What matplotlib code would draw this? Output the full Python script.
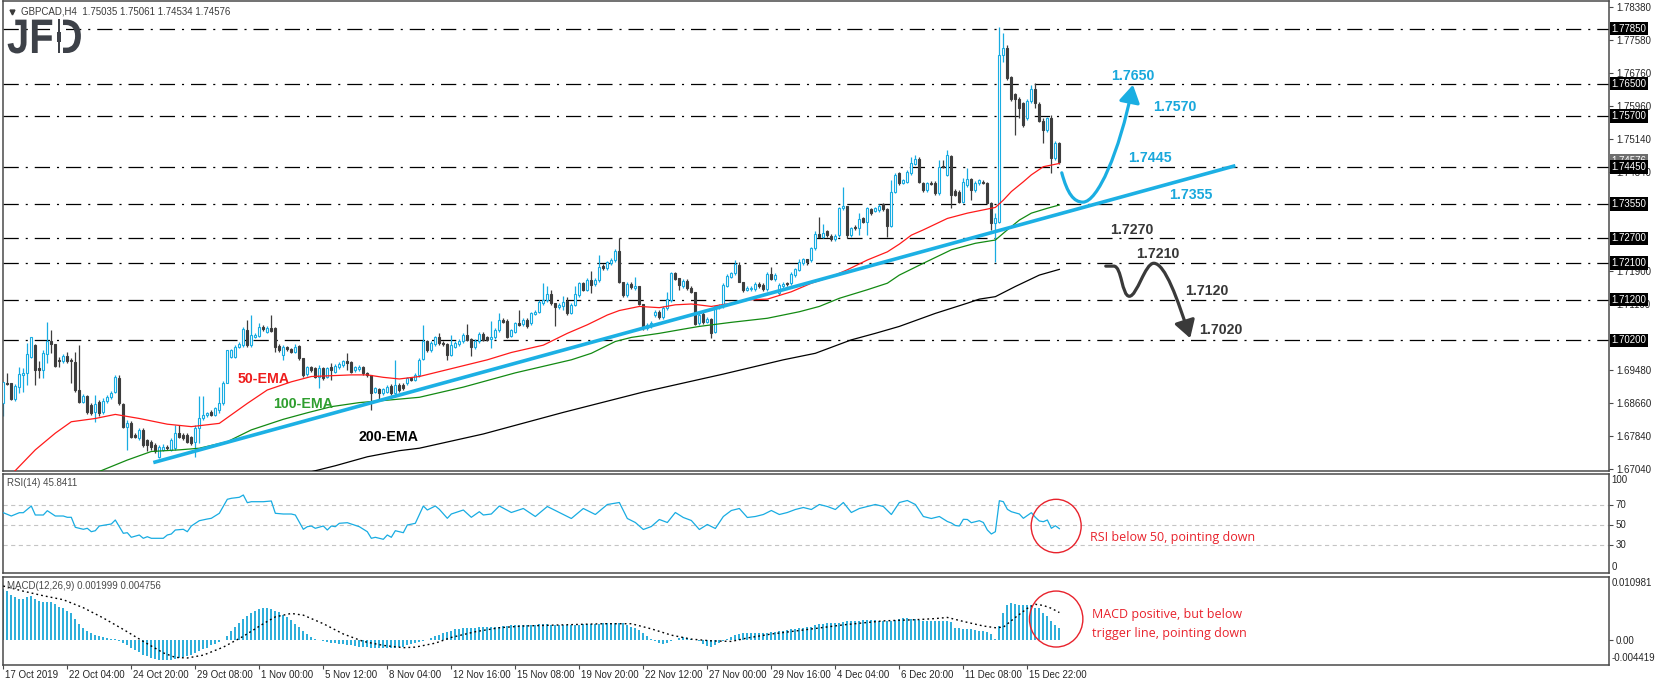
import matplotlib
matplotlib.use("Agg")
import matplotlib.pyplot as plt
import numpy as np
from matplotlib.patches import Ellipse, FancyArrowPatch, PathPatch, Rectangle
from matplotlib.path import Path
from matplotlib.textpath import TextPath
from matplotlib.font_manager import FontProperties
from matplotlib.transforms import Affine2D

plt.rcParams['font.family'] = ['Liberation Sans', 'DejaVu Sans']
plt.rcParams['lines.scale_dashes'] = False

# ---------------- data (GBPCAD H4) ----------------
opens = [
    1.6865, 1.6916, 1.6914, 1.6877, 1.6906, 1.6935, 1.6939, 1.6980, 1.7008, 1.6951,
    1.6947, 1.6986, 1.7017, 1.7011, 1.6972, 1.6970, 1.6982, 1.6972, 1.6967, 1.6898,
    1.6869, 1.6882, 1.6861, 1.6845, 1.6869, 1.6843, 1.6872, 1.6880, 1.6894, 1.6927,
    1.6864, 1.6808, 1.6818, 1.6787, 1.6779, 1.6800, 1.6775, 1.6771, 1.6763, 1.6734,
    1.6751, 1.6759, 1.6751, 1.6755, 1.6792, 1.6788, 1.6788, 1.6783, 1.6771, 1.6804,
    1.6829, 1.6837, 1.6845, 1.6837, 1.6849, 1.6865, 1.6916, 1.6980, 1.6980, 1.7004,
    1.7008, 1.7045, 1.7008, 1.7029, 1.7031, 1.7053, 1.7041, 1.7049, 1.7049, 1.7006,
    1.6984, 1.7003, 1.6998, 1.6992, 1.7006, 1.6976, 1.6937, 1.6954, 1.6951, 1.6931,
    1.6951, 1.6931, 1.6954, 1.6943, 1.6954, 1.6959, 1.6968, 1.6966, 1.6947, 1.6949,
    1.6954, 1.6939, 1.6935, 1.6894, 1.6900, 1.6890, 1.6894, 1.6908, 1.6890, 1.6910,
    1.6910, 1.6914, 1.6927, 1.6923, 1.6935,
    1.6974, 1.7017, 1.6996, 1.7010, 1.7027, 1.7014, 1.7011, 1.6984, 1.7004, 1.7010,
    1.7017, 1.7033, 1.7022, 1.7003, 1.7017, 1.7036, 1.7027, 1.7023, 1.7027, 1.7044,
    1.7070, 1.7068, 1.7031, 1.7041, 1.7062, 1.7060, 1.7070, 1.7062, 1.7085, 1.7090,
    1.7111, 1.7119, 1.7134, 1.7111, 1.7101, 1.7103, 1.7117, 1.7088, 1.7107, 1.7131,
    1.7160, 1.7144, 1.7168, 1.7158, 1.7168, 1.7202, 1.7197, 1.7209, 1.7217, 1.7240,
    1.7162, 1.7131, 1.7158, 1.7148, 1.7153, 1.7109, 1.7049, 1.7055, 1.7082, 1.7090,
    1.7076, 1.7099, 1.7119, 1.7184, 1.7172, 1.7153, 1.7166, 1.7148, 1.7139, 1.7062,
    1.7085, 1.7066, 1.7072, 1.7041, 1.7101, 1.7103, 1.7154, 1.7176, 1.7184, 1.7205,
    1.7164, 1.7144, 1.7145, 1.7145, 1.7158, 1.7156, 1.7145, 1.7183, 1.7170, 1.7135,
    1.7152, 1.7160, 1.7160, 1.7180, 1.7193, 1.7209, 1.7219, 1.7217, 1.7246, 1.7281,
    1.7274, 1.7287, 1.7276, 1.7268, 1.7278, 1.7344, 1.7350, 1.7278, 1.7299, 1.7295,
    1.7319, 1.7311, 1.7341, 1.7338, 1.7340, 1.7354, 1.7341, 1.7301, 1.7385, 1.7430,
    1.7407, 1.7409, 1.7430, 1.7453, 1.7464, 1.7405, 1.7389, 1.7407, 1.7407, 1.7381,
    1.7448, 1.7426, 1.7472, 1.7387, 1.7385, 1.7360, 1.7401, 1.7415, 1.7389, 1.7405,
    1.7409, 1.7407, 1.7358, 1.7309, 1.7311, 1.7720, 1.7737, 1.7665, 1.7625, 1.7611,
    1.7602, 1.7565, 1.7608, 1.7636, 1.7600, 1.7559, 1.7535, 1.7565, 1.7467, 1.75035,
]
highs = [
    1.6918, 1.6939, 1.6914, 1.6912, 1.6955, 1.6951, 1.7013, 1.7029, 1.7010, 1.6968,
    1.6996, 1.7064, 1.7045, 1.7011, 1.6980, 1.6986, 1.6992, 1.6976, 1.6992, 1.7008,
    1.6887, 1.6886, 1.6865, 1.6886, 1.6873, 1.6878, 1.6886, 1.6896, 1.6935, 1.6935,
    1.6865, 1.6824, 1.6822, 1.6792, 1.6804, 1.6804, 1.6777, 1.6775, 1.6767, 1.6763,
    1.6765, 1.6763, 1.6779, 1.6812, 1.6812, 1.6792, 1.6792, 1.6786, 1.6812, 1.6882,
    1.6882, 1.6845, 1.6849, 1.6857, 1.6906, 1.6920, 1.6996, 1.6999, 1.7008, 1.7015,
    1.7053, 1.7070, 1.7082, 1.7037, 1.7062, 1.7058, 1.7055, 1.7082, 1.7053, 1.7010,
    1.7008, 1.7006, 1.7002, 1.7011, 1.7008, 1.6976, 1.6958, 1.6958, 1.6955, 1.6959,
    1.6955, 1.6955, 1.6963, 1.6961, 1.6966, 1.6972, 1.6988, 1.6970, 1.6958, 1.6960,
    1.6958, 1.6943, 1.6935, 1.6906, 1.6902, 1.6904, 1.6910, 1.6912, 1.6972, 1.6914,
    1.6914, 1.6931, 1.6931, 1.6939, 1.6976,
    1.7058, 1.7021, 1.7018, 1.7031, 1.7037, 1.7018, 1.7014, 1.7033, 1.7017, 1.7022,
    1.7037, 1.7060, 1.7025, 1.7022, 1.7040, 1.7040, 1.7031, 1.7067, 1.7049, 1.7086,
    1.7074, 1.7072, 1.7048, 1.7066, 1.7094, 1.7074, 1.7074, 1.7090, 1.7094, 1.7119,
    1.7160, 1.7152, 1.7144, 1.7111, 1.7111, 1.7129, 1.7127, 1.7111, 1.7153, 1.7164,
    1.7164, 1.7172, 1.7189, 1.7172, 1.7229, 1.7206, 1.7215, 1.7221, 1.7243, 1.7270,
    1.7162, 1.7162, 1.7162, 1.7176, 1.7153, 1.7109, 1.7062, 1.7067, 1.7094, 1.7094,
    1.7103, 1.7139, 1.7188, 1.7188, 1.7172, 1.7170, 1.7170, 1.7152, 1.7139, 1.7086,
    1.7089, 1.7076, 1.7074, 1.7105, 1.7109, 1.7160, 1.7182, 1.7188, 1.7217, 1.7213,
    1.7164, 1.7152, 1.7153, 1.7162, 1.7162, 1.7160, 1.7187, 1.7199, 1.7184, 1.7160,
    1.7162, 1.7164, 1.7187, 1.7198, 1.7219, 1.7223, 1.7219, 1.7250, 1.7287, 1.7322,
    1.7305, 1.7291, 1.7280, 1.7280, 1.7348, 1.7397, 1.7350, 1.7299, 1.7303, 1.7332,
    1.7323, 1.7348, 1.7345, 1.7348, 1.7354, 1.7358, 1.7344, 1.7413, 1.7430, 1.7434,
    1.7417, 1.7438, 1.7471, 1.7475, 1.7471, 1.7409, 1.7409, 1.7411, 1.7411, 1.7463,
    1.7463, 1.7487, 1.7475, 1.7391, 1.7389, 1.7418, 1.7442, 1.7418, 1.7411, 1.7417,
    1.7413, 1.7409, 1.7360, 1.7332, 1.7790, 1.7773, 1.7745, 1.7669, 1.7626, 1.7618,
    1.7606, 1.7612, 1.7647, 1.7651, 1.7604, 1.7565, 1.7567, 1.7573, 1.7508, 1.75061,
]
lows = [
    1.6833, 1.6910, 1.6873, 1.6872, 1.6890, 1.6894, 1.6910, 1.6976, 1.6910, 1.6927,
    1.6927, 1.6963, 1.6988, 1.6955, 1.6955, 1.6965, 1.6963, 1.6914, 1.6894, 1.6865,
    1.6865, 1.6839, 1.6837, 1.6820, 1.6833, 1.6838, 1.6866, 1.6875, 1.6890, 1.6861,
    1.6804, 1.6751, 1.6779, 1.6779, 1.6775, 1.6759, 1.6747, 1.6751, 1.6743, 1.6730,
    1.6747, 1.6751, 1.6747, 1.6751, 1.6779, 1.6775, 1.6767, 1.6763, 1.6734, 1.6767,
    1.6824, 1.6832, 1.6833, 1.6833, 1.6841, 1.6861, 1.6914, 1.6976, 1.6976, 1.7000,
    1.7004, 1.7004, 1.7004, 1.7025, 1.7029, 1.7043, 1.7037, 1.7041, 1.6992, 1.6992,
    1.6972, 1.6994, 1.6988, 1.6988, 1.6972, 1.6931, 1.6933, 1.6943, 1.6927, 1.6902,
    1.6923, 1.6927, 1.6923, 1.6939, 1.6950, 1.6955, 1.6947, 1.6939, 1.6943, 1.6945,
    1.6935, 1.6931, 1.6849, 1.6890, 1.6873, 1.6886, 1.6890, 1.6886, 1.6886, 1.6894,
    1.6898, 1.6910, 1.6919, 1.6919, 1.6931,
    1.6972, 1.6992, 1.6992, 1.7006, 1.7009, 1.7007, 1.6972, 1.6982, 1.7000, 1.7006,
    1.7013, 1.7017, 1.6982, 1.6999, 1.7013, 1.7017, 1.7017, 1.7000, 1.7023, 1.7041,
    1.7062, 1.7025, 1.7027, 1.7037, 1.7054, 1.7056, 1.7051, 1.7058, 1.7081, 1.7086,
    1.7107, 1.7115, 1.7107, 1.7056, 1.7097, 1.7094, 1.7083, 1.7084, 1.7103, 1.7127,
    1.7140, 1.7140, 1.7135, 1.7154, 1.7164, 1.7193, 1.7193, 1.7205, 1.7213, 1.7160,
    1.7127, 1.7127, 1.7146, 1.7144, 1.7107, 1.7045, 1.7045, 1.7051, 1.7078, 1.7072,
    1.7072, 1.7095, 1.7115, 1.7167, 1.7144, 1.7149, 1.7144, 1.7135, 1.7058, 1.7058,
    1.7060, 1.7062, 1.7025, 1.7037, 1.7097, 1.7099, 1.7150, 1.7172, 1.7180, 1.7162,
    1.7139, 1.7140, 1.7141, 1.7141, 1.7149, 1.7141, 1.7141, 1.7168, 1.7166, 1.7131,
    1.7148, 1.7154, 1.7156, 1.7176, 1.7189, 1.7205, 1.7205, 1.7213, 1.7242, 1.7273,
    1.7270, 1.7274, 1.7264, 1.7264, 1.7274, 1.7340, 1.7270, 1.7274, 1.7291, 1.7278,
    1.7307, 1.7278, 1.7328, 1.7334, 1.7336, 1.7337, 1.7274, 1.7299, 1.7381, 1.7401,
    1.7403, 1.7405, 1.7426, 1.7450, 1.7405, 1.7385, 1.7385, 1.7400, 1.7377, 1.7377,
    1.7442, 1.7422, 1.7344, 1.7373, 1.7356, 1.7356, 1.7397, 1.7364, 1.7385, 1.7401,
    1.7403, 1.7356, 1.7291, 1.7213, 1.7307, 1.7704, 1.7659, 1.7607, 1.7524, 1.7565,
    1.7544, 1.7561, 1.7602, 1.7589, 1.7555, 1.7504, 1.7532, 1.7430, 1.7463, 1.74534,
]
closes = [
    1.6918, 1.6913, 1.6877, 1.6908, 1.6936, 1.6939, 1.6986, 1.7027, 1.6947, 1.6947,
    1.6988, 1.7017, 1.7011, 1.6957, 1.6968, 1.6982, 1.6968, 1.6968, 1.6898, 1.6869,
    1.6883, 1.6845, 1.6841, 1.6863, 1.6841, 1.6872, 1.6880, 1.6890, 1.6929, 1.6865,
    1.6808, 1.6818, 1.6783, 1.6783, 1.6800, 1.6763, 1.6763, 1.6759, 1.6747, 1.6759,
    1.6759, 1.6755, 1.6775, 1.6793, 1.6783, 1.6779, 1.6771, 1.6767, 1.6804, 1.6829,
    1.6837, 1.6841, 1.6837, 1.6853, 1.6867, 1.6916, 1.6995, 1.6995, 1.7004, 1.7011,
    1.7047, 1.7008, 1.7033, 1.7033, 1.7053, 1.7047, 1.7051, 1.7043, 1.7004, 1.6996,
    1.7003, 1.6998, 1.6992, 1.7004, 1.6976, 1.6935, 1.6954, 1.6947, 1.6931, 1.6951,
    1.6927, 1.6951, 1.6947, 1.6957, 1.6962, 1.6968, 1.6963, 1.6943, 1.6954, 1.6955,
    1.6939, 1.6935, 1.6890, 1.6902, 1.6891, 1.6900, 1.6906, 1.6890, 1.6910, 1.6898,
    1.6902, 1.6927, 1.6923, 1.6935, 1.6972,
    1.7017, 1.6996, 1.7014, 1.7027, 1.7013, 1.7011, 1.6984, 1.7009, 1.7013, 1.7018,
    1.7033, 1.7021, 1.7003, 1.7018, 1.7036, 1.7021, 1.7021, 1.7027, 1.7045, 1.7070,
    1.7066, 1.7029, 1.7044, 1.7062, 1.7058, 1.7070, 1.7055, 1.7086, 1.7090, 1.7115,
    1.7119, 1.7134, 1.7111, 1.7101, 1.7107, 1.7115, 1.7086, 1.7107, 1.7134, 1.7160,
    1.7144, 1.7168, 1.7156, 1.7168, 1.7201, 1.7197, 1.7211, 1.7217, 1.7240, 1.7162,
    1.7131, 1.7158, 1.7150, 1.7153, 1.7109, 1.7049, 1.7058, 1.7063, 1.7090, 1.7076,
    1.7099, 1.7121, 1.7184, 1.7171, 1.7156, 1.7166, 1.7148, 1.7139, 1.7060, 1.7082,
    1.7064, 1.7072, 1.7039, 1.7103, 1.7105, 1.7156, 1.7178, 1.7184, 1.7207, 1.7164,
    1.7144, 1.7148, 1.7149, 1.7158, 1.7153, 1.7145, 1.7183, 1.7170, 1.7180, 1.7156,
    1.7158, 1.7158, 1.7183, 1.7194, 1.7211, 1.7219, 1.7213, 1.7246, 1.7281, 1.7274,
    1.7283, 1.7278, 1.7268, 1.7276, 1.7344, 1.7350, 1.7278, 1.7295, 1.7295, 1.7317,
    1.7311, 1.7344, 1.7332, 1.7344, 1.7350, 1.7341, 1.7301, 1.7385, 1.7426, 1.7405,
    1.7413, 1.7434, 1.7454, 1.7464, 1.7409, 1.7389, 1.7405, 1.7404, 1.7381, 1.7446,
    1.7446, 1.7475, 1.7377, 1.7377, 1.7360, 1.7409, 1.7415, 1.7389, 1.7407, 1.7413,
    1.7407, 1.7358, 1.7309, 1.7319, 1.7720, 1.7737, 1.7663, 1.7611, 1.7611, 1.7589,
    1.7548, 1.7608, 1.7636, 1.7602, 1.7559, 1.7535, 1.7565, 1.7467, 1.7504, 1.74576,
]

# moving averages (bar index, price)
ema50_idx = [2, 8, 13, 17, 23, 28, 34, 41, 47, 54, 61, 66, 72, 77, 87, 91, 95, 99, 104,
             121, 127, 135, 141, 146, 151, 154, 159, 164, 168, 172, 177, 182, 186, 191,
             197, 202, 207, 211, 216, 221, 224, 227, 230, 236, 241, 247, 248, 250, 252,
             255, 257, 260, 262, 264]
ema50_val = [1.6690, 1.6751, 1.6792, 1.6820, 1.6828, 1.6838, 1.6828, 1.6814, 1.6808,
             1.6816, 1.6865, 1.6898, 1.6918, 1.6931, 1.6935, 1.6935, 1.6929, 1.6925,
             1.6931, 1.6972, 1.6990, 1.7008, 1.7037, 1.7058, 1.7082, 1.7093, 1.7103,
             1.7100, 1.7107, 1.7109, 1.7103, 1.7111, 1.7119, 1.7121, 1.7139, 1.7160,
             1.7176, 1.7193, 1.7217, 1.7237, 1.7256, 1.7278, 1.7291, 1.7319, 1.7332,
             1.7344, 1.7346, 1.7364, 1.7385, 1.7409, 1.7426, 1.7446, 1.7450, 1.7454]
ema100_idx = [22, 31, 37, 44, 49, 56, 62, 70, 76, 82, 89, 95, 104, 115, 128, 142, 147,
              153, 157, 164, 171, 174, 182, 191, 199, 204, 209, 216, 221, 224, 230, 237,
              243, 248, 251, 254, 257, 261, 264]
ema100_val = [1.6690, 1.6726, 1.6747, 1.6751, 1.6755, 1.6771, 1.6800, 1.6826, 1.6842,
              1.6857, 1.6867, 1.6872, 1.6880, 1.6905, 1.6940, 1.6972, 1.6988, 1.7017,
              1.7027, 1.7037, 1.7049, 1.7054, 1.7064, 1.7074, 1.7090, 1.7103, 1.7123,
              1.7144, 1.7160, 1.7180, 1.7209, 1.7242, 1.7258, 1.7266, 1.7291, 1.7315,
              1.7332, 1.7344, 1.7352]
ema200_idx = [74, 83, 91, 99, 104, 120, 140, 160, 180, 195, 203, 212, 218, 224, 233,
              241, 244, 248, 253, 259, 264]
ema200_val = [1.6690, 1.6712, 1.6734, 1.6749, 1.6755, 1.6790, 1.6843, 1.6893, 1.6937,
              1.6972, 1.6988, 1.7021, 1.7037, 1.7054, 1.7086, 1.7111, 1.7121, 1.7127,
              1.7152, 1.7180, 1.7194]

levels = [1.7785, 1.7650, 1.7570, 1.7445, 1.7355, 1.7270, 1.7210, 1.7120, 1.7020]
price_ticks = [1.7838, 1.7758, 1.7676, 1.7596, 1.7514, 1.7434, 1.7190, 1.7110,
               1.6948, 1.6866, 1.6784, 1.6704]
cur_price = 1.74576

# RSI(14) (bar index, value)
rsi_idx = [0, 2, 4, 5, 7, 8, 10, 11, 13, 15, 16, 17, 18, 20, 21, 22, 23, 24, 27, 28,
           30, 31, 32, 34, 35, 36, 37, 40, 41, 42, 43, 45, 46, 47, 49, 51, 52, 54, 56,
           57, 59, 60, 61, 62, 65, 67, 68, 70, 72, 73, 75, 76, 77, 78, 80, 81, 82, 83,
           84, 86, 87, 89, 91, 92, 93, 95, 96, 97, 98, 100, 101, 103, 105, 106, 108,
           109, 111, 112, 115, 117, 119, 120, 122, 124,
           127, 130, 133, 136, 139, 142, 145, 148, 151, 154, 156, 158, 160, 162, 164,
           166, 168, 170, 172, 174, 176, 178, 180, 182, 184, 186, 188, 190, 192, 194,
           196, 198, 200, 202, 204, 206, 208, 210, 212, 214, 216, 218, 220, 222, 224,
           226, 228, 230, 232, 234, 236,
           237, 238, 239, 240, 241, 242, 243, 244, 245, 246, 247, 248, 249, 250, 251,
           252, 254, 255, 257, 258, 259, 260, 261, 262, 263, 264]
rsi_val = [61.8, 58.5, 61.8, 61.8, 68.5, 59.5, 59.5, 63.8, 58.5, 58.5, 57.2, 57.2, 47.2,
           45.2, 46.2, 42.8, 43.8, 48.5, 50.5, 54.5, 41.2, 41.8, 37.2, 39.5, 36.2, 37.8,
           36.2, 36.2, 39.5, 40.5, 44.5, 45.2, 42.8, 48.5, 53.8, 55.5, 56.2, 61.2, 75.2,
           76.2, 77.2, 79.5, 71.8, 72.8, 72.8, 73.5, 61.2, 60.5, 60.5, 59.5, 45.2, 47.8,
           48.5, 46.2, 48.5, 44.5, 48.5, 47.8, 51.2, 51.8, 50.5, 47.8, 42.8, 36.2, 37.2,
           35.2, 39.5, 37.2, 43.8, 41.8, 49.5, 51.2, 68.5, 64.5, 68.5, 65.2, 56.2, 60.5,
           64.5, 57.2, 62.8, 59.5, 60.5, 68.5,
           62.0, 66.0, 58.0, 68.0, 62.0, 56.0, 66.0, 60.0, 70.0, 72.0, 56.0, 52.0, 45.0,
           48.0, 55.0, 52.0, 62.0, 57.0, 54.0, 45.0, 50.0, 46.0, 58.0, 64.0, 66.0, 57.0,
           58.0, 60.0, 64.0, 60.0, 62.0, 65.0, 67.0, 65.0, 70.0, 68.0, 65.0, 72.0, 62.0,
           66.0, 68.0, 70.0, 68.0, 60.0, 72.0, 74.0, 70.0, 58.0, 56.0, 58.0, 53.0,
           51.5, 49.0, 48.5, 55.2, 55.0, 51.8, 52.8, 53.8, 52.0, 44.5, 40.5, 42.8, 73.8,
           72.8, 65.2, 62.8, 60.5, 56.2, 61.8, 57.2, 53.5, 52.8, 54.5, 46.2, 48.8, 45.84]

# MACD(12,26,9) histogram, one value per bar (x 1e-3)
macd_main = [
    8.8, 8.6, 7.8, 7.4, 7.2, 7.2, 7.4, 7.6, 7.1, 6.7, 6.6, 6.6, 6.6, 6.2, 5.7, 5.5, 5.1,
    4.7, 3.7, 2.7, 2.0,
    1.5, 1.1, 0.8, 0.6, 0.5, 0.3, 0.2, 0.1, -0.2,
    -0.5, -0.9, -1.4, -1.8, -2.2, -2.6, -2.9, -3.2, -3.4, -3.5, -3.6, -3.5, -3.5, -3.3,
    -3.2, -3.0, -2.8, -2.6, -2.3, -2.0, -1.7, -1.4, -1.0, -0.7, -0.4, -0.1,
    0.6, 1.5, 2.3, 3.0, 3.6, 4.2, 4.7, 5.1, 5.4, 5.5, 5.6, 5.4, 5.1, 4.8, 4.4, 4.0, 3.4,
    2.8, 2.2, 1.6, 1.0, 0.5,
    0.2, 0.0, -0.2, -0.4, -0.5, -0.6, -0.7, -0.8, -0.9, -1.0, -1.1, -1.2, -1.3, -1.3,
    -1.4, -1.4, -1.5, -1.5, -1.5, -1.4, -1.4, -1.3, -1.2, -1.0, -0.8, -0.6, -0.4, -0.2,
    0.0, 0.3,
    0.6, 0.9, 1.2, 1.4, 1.6, 1.8, 1.9, 2.0, 2.0, 2.1, 2.1, 2.2, 2.2, 2.2, 2.3, 2.3, 2.3,
    2.4, 2.4, 2.5, 2.5, 2.5, 2.6, 2.6, 2.6, 2.6, 2.7, 2.7, 2.7, 2.6, 2.6, 2.5, 2.5, 2.5,
    2.5, 2.6, 2.6, 2.7, 2.7, 2.8, 2.8, 2.8, 2.9, 2.9, 3.0, 3.0, 3.0, 2.9, 2.6, 2.3, 2.0,
    1.7,
    1.2, 0.7, 0.2, -0.3, -0.6, -0.7, -0.5, -0.3, 0.0, 0.3, 0.4, 0.3, 0.2, 0.0, -0.3,
    -0.8, -1.1, -1.2, -1.0, -0.6, -0.2,
    0.2, 0.5, 0.8, 1.0, 1.1, 1.1, 1.1, 1.1, 1.2, 1.2, 1.2, 1.3, 1.4, 1.5, 1.6, 1.7, 1.8,
    1.9, 2.0, 2.1, 2.2, 2.3, 2.5, 2.7, 2.8, 2.9, 2.9, 3.0, 3.0, 3.1, 3.2, 3.3, 3.3, 3.3,
    3.4, 3.4, 3.4, 3.4, 3.3, 3.3, 3.2, 3.3, 3.5, 3.7, 3.8, 3.8, 3.7, 3.6, 3.4, 3.3,
    3.2, 3.2, 3.3, 3.3, 3.2, 3.2, 3.1,
    2.1, 2.0, 1.9, 1.8, 1.8, 1.7, 1.6, 1.5, 1.3, 1.0, 0.2, 2.4, 4.6, 6.1, 6.4, 6.3, 6.1,
    6.0, 6.1, 6.0, 5.6, 5.5, 4.6, 4.2, 3.2, 2.6, 2.0,
]
signal_idx = [0, 5, 10, 15, 20, 25, 30, 35, 40, 43, 46, 50, 55, 60, 65, 68, 72, 75, 80,
              85, 90, 95, 100, 103, 108, 112, 118, 124, 130, 140, 150, 157, 162, 167,
              172, 177, 182, 186, 192, 200, 210, 220, 228, 233, 236, 240, 245, 248, 250,
              253, 256, 258, 260, 262, 264]
signal_val = [9.4, 8.5, 7.7, 7.0, 5.6, 3.8, 1.8, -0.3, -2.3, -3.1, -3.2, -2.7, -1.3,
              0.6, 2.8, 4.0, 4.6, 4.3, 2.8, 1.0, -0.3, -1.0, -1.4, -1.3, -0.6, 0.4, 1.4,
              2.1, 2.4, 2.6, 2.8, 2.8, 1.9, 0.8, 0.1, -0.2, -0.3, 0.3, 1.0, 1.7, 2.6,
              3.3, 3.5, 3.7, 3.9, 3.2, 2.4, 2.1, 2.2, 3.9, 5.5, 6.2, 6.0, 5.5, 4.756]

date_labels = ['17 Oct 2019', '22 Oct 04:00', '24 Oct 20:00', '29 Oct 08:00',
               '1 Nov 00:00', '5 Nov 12:00', '8 Nov 04:00', '12 Nov 16:00',
               '15 Nov 08:00', '19 Nov 20:00', '22 Nov 12:00', '27 Nov 00:00',
               '29 Nov 16:00', '4 Dec 04:00', '6 Dec 20:00', '11 Dec 08:00',
               '15 Dec 22:00']
bars_per_label = 16

# ---------------- figure ----------------
W, H = 1655, 686
fig = plt.figure(figsize=(W / 100, H / 100), dpi=100)
fig.patch.set_facecolor('white')

CYAN = '#18ace2'
DARK = '#3d3d3d'
RED = '#e8222c'
FRAME = '#4a4a4a'
TXT = '#262626'


def add_panel(top, bottom):
    a = fig.add_axes([3 / W, 1 - bottom / H, 1606 / W, (bottom - top) / H])
    a.set_xlim(-0.075, 401.4)
    for s in a.spines.values():
        s.set_color(FRAME)
        s.set_linewidth(1.1)
    a.yaxis.tick_right()
    a.tick_params(axis='x', bottom=False, labelbottom=False)
    a.tick_params(axis='y', length=3, width=0.8, colors=FRAME, labelcolor=TXT,
                  labelsize=7, pad=2)
    return a


ax = add_panel(1, 471)
ax_rsi = add_panel(474, 573)
ax_macd = add_panel(577, 665)

# ---- main price panel ----
o = np.array(opens)
h = np.array(highs)
l = np.array(lows)
c = np.array(closes)
x = np.arange(len(c))
bull = c >= o
ax.set_ylim(1.66991, 1.78527)

for lvl in levels:
    ax.axhline(lvl, color='black', lw=0.9, ls=(0, (11, 5, 1.5, 5)), zorder=1)

ax.vlines(x[bull], l[bull], h[bull], color=CYAN, lw=0.9, zorder=2)
ax.vlines(x[~bull], l[~bull], h[~bull], color=DARK, lw=0.9, zorder=2)
body = np.maximum(np.abs(c - o), 0.00008)
ax.bar(x[bull], body[bull], bottom=o[bull], width=0.5, color='white',
       edgecolor=CYAN, lw=0.8, zorder=3)
ax.bar(x[~bull], body[~bull], bottom=c[~bull], width=0.5, color=DARK,
       edgecolor=DARK, lw=0.8, zorder=3)

ax.plot(ema50_idx, ema50_val, color='#ff1a1a', lw=0.9, zorder=4)
ax.plot(ema100_idx, ema100_val, color='#138a13', lw=0.9, zorder=4)
ax.plot(ema200_idx, ema200_val, color='black', lw=0.9, zorder=4)

# rising trend line
ax.plot([37.5, 308.0], [1.67198, 1.74485], color='#1cb0e4', lw=2.6,
        solid_capstyle='butt', zorder=5)

bold = dict(fontsize=10.2, fontweight='bold', ha='center', va='center', zorder=6)
ax.text(65.2, 1.69249, '50-EMA', color='#ee1c1c', **bold)
ax.text(74.9, 1.68635, '100-EMA', color='#2f9e2f', **bold)
ax.text(96.2, 1.67825, '200-EMA', color='black', **bold)
for xi, yi, s in [(282.4, 1.76686, '1.7650'), (292.9, 1.75925, '1.7570'),
                  (286.7, 1.74674, '1.7445'), (296.9, 1.73765, '1.7355')]:
    ax.text(xi, yi, s, color='#1aa8dc', **bold)
for xi, yi, s in [(282.2, 1.72906, '1.7270'), (288.7, 1.72317, '1.7210'),
                  (300.9, 1.71409, '1.7120'), (304.4, 1.70452, '1.7020')]:
    ax.text(xi, yi, s, color='#383838', **bold)

# scenario arrows
up_path = Path([(264.6, 1.7431), (266.0, 1.7380), (267.6, 1.7359), (269.9, 1.7359),
                (273.5, 1.7359), (279.0, 1.7480), (282.4, 1.7647)],
               [Path.MOVETO] + [Path.CURVE4] * 6)
ax.add_patch(FancyArrowPatch(path=up_path, arrowstyle='-|>,head_length=0.75,head_width=0.45',
                             mutation_scale=14, lw=2.3, color='#1aaee2', zorder=6))
dn_path = Path([(275.6, 1.7202), (277.6, 1.7202),
                (279.6, 1.7202), (279.6, 1.7128), (281.5, 1.7128),
                (283.4, 1.7128), (285.4, 1.7209), (287.6, 1.7209),
                (290.4, 1.7209), (293.6, 1.7120), (296.7, 1.7025)],
               [Path.MOVETO, Path.LINETO] + [Path.CURVE4] * 9)
ax.add_patch(FancyArrowPatch(path=dn_path, arrowstyle='-|>,head_length=0.75,head_width=0.45',
                             mutation_scale=14, lw=2.3, color='#3a3a3a', zorder=6))

ax.set_yticks(price_ticks)
ax.set_yticklabels([f'{t:.5f}' for t in price_ticks])
ytr = ax.get_yaxis_transform()
ax.text(1.0015, cur_price + 0.0003, f'{cur_price:.5f}', transform=ytr, color='white',
        fontsize=7, va='center', ha='left', zorder=7,
        bbox=dict(boxstyle='square,pad=0.18', fc='#6e6e6e', ec='none'))
for lvl in levels:
    ax.text(1.0015, lvl, f'{lvl:.5f}', transform=ytr, color='white', fontsize=7,
            va='center', ha='left', zorder=8,
            bbox=dict(boxstyle='square,pad=0.18', fc='black', ec='none'))

ax.text(0.0112, 0.977, 'GBPCAD,H4  1.75035 1.75061 1.74534 1.74576', transform=ax.transAxes,
        fontsize=7, color='#3a3a3a', va='center', ha='left')
ax.plot([0.0055], [0.977], marker='v', ms=3.5, color='#3a3a3a', transform=ax.transAxes,
        clip_on=False)

# JFD logo
tp = TextPath((0, 0), 'JFD', size=1, prop=FontProperties(family='Liberation Sans',
                                                          weight='bold'))
fig.add_artist(PathPatch(tp, transform=Affine2D().scale(40, 48.5).translate(7, H - 53),
                         fc='#3d4148', ec='none'))
fig.add_artist(Rectangle((55.6, H - 54), 7.2, 37, transform=Affine2D(), fc='white',
                         ec='none'))
fig.add_artist(Rectangle((58.3, H - 53), 1.3, 34, transform=Affine2D(), fc='#3d4148',
                         ec='none'))
fig.add_artist(Rectangle((56.6, H - 42), 4.6, 10, transform=Affine2D(), fc='#3d4148',
                         ec='none'))

# ---- RSI panel ----
ax_rsi.set_ylim(1.5, 100.5)
for lvl in (30, 50, 70):
    ax_rsi.axhline(lvl, color='#c4c4c4', lw=0.8, ls=(0, (3, 2.5)), zorder=1)
ax_rsi.plot(rsi_idx, rsi_val, color=CYAN, lw=0.9, zorder=3)
ax_rsi.set_yticks([30, 50, 70])
ax_rsi.set_yticklabels(['30', '50', '70'])
rtr = ax_rsi.get_yaxis_transform()
ax_rsi.text(1.0015, 94.5, '100', transform=rtr, fontsize=7, color=TXT, va='center')
ax_rsi.text(1.0015, 7.5, '0', transform=rtr, fontsize=7, color=TXT, va='center')
ax_rsi.text(0.0025, 0.91, 'RSI(14) 45.8411', transform=ax_rsi.transAxes, fontsize=7,
            color='#4a4a4a', va='center')
ax_rsi.add_patch(Ellipse((263.2, 48.5), 12.5, 53.4, fill=False, ec=RED, lw=1.0, zorder=4))
ax_rsi.text(271.7, 36.5, 'RSI below 50, pointing down', fontsize=9, color=RED,
            family=['Open Sans', 'DejaVu Sans'], va='center', ha='left')

# ---- MACD panel ----
ax_macd.set_ylim(-0.004428, 0.010981)
mx = np.arange(len(macd_main))
mv = np.array(macd_main) / 1000.0
ax_macd.vlines(mx, 0, mv, color='#1aa7d8', lw=1.3, zorder=2)
ax_macd.plot(signal_idx, np.array(signal_val) / 1000.0, color='black', lw=1.0,
             ls=(0, (1.3, 2.2)), zorder=3)
ax_macd.set_yticks([0.0])
ax_macd.set_yticklabels(['0.00'])
mtr = ax_macd.get_yaxis_transform()
ax_macd.text(1.0015, 0.00992, '0.010981', transform=mtr, fontsize=7, color=TXT,
             va='center')
ax_macd.text(1.0015, -0.0032, '-0.004419', transform=mtr, fontsize=7, color=TXT,
             va='center')
ax_macd.text(0.0025, 0.898, 'MACD(12,26,9) 0.001999 0.004756', transform=ax_macd.transAxes,
             fontsize=7, color='#4a4a4a', va='center')
ax_macd.add_patch(Ellipse((263.2, 0.00362), 13.35, 0.0098, fill=False, ec=RED, lw=1.0,
                          zorder=4))
ax_macd.text(272.2, 0.0045, 'MACD positive, but below', fontsize=9, color=RED,
             family=['Open Sans', 'DejaVu Sans'], va='center', ha='left')
ax_macd.text(272.2, 0.00117, 'trigger line, pointing down', fontsize=9, color=RED,
             family=['Open Sans', 'DejaVu Sans'], va='center', ha='left')

tick_pos = np.arange(len(date_labels)) * bars_per_label
ax_macd.set_xticks(tick_pos)
ax_macd.tick_params(axis='x', bottom=True, length=3, width=0.8, colors=FRAME,
                    labelbottom=False)
xtr = ax_macd.get_xaxis_transform()
for tp_, lab in zip(tick_pos, date_labels):
    ax_macd.text(tp_ + 0.4, -0.06, lab, transform=xtr, fontsize=7, color=TXT,
                 ha='left', va='top')

fig.savefig('out.png', dpi=100)
